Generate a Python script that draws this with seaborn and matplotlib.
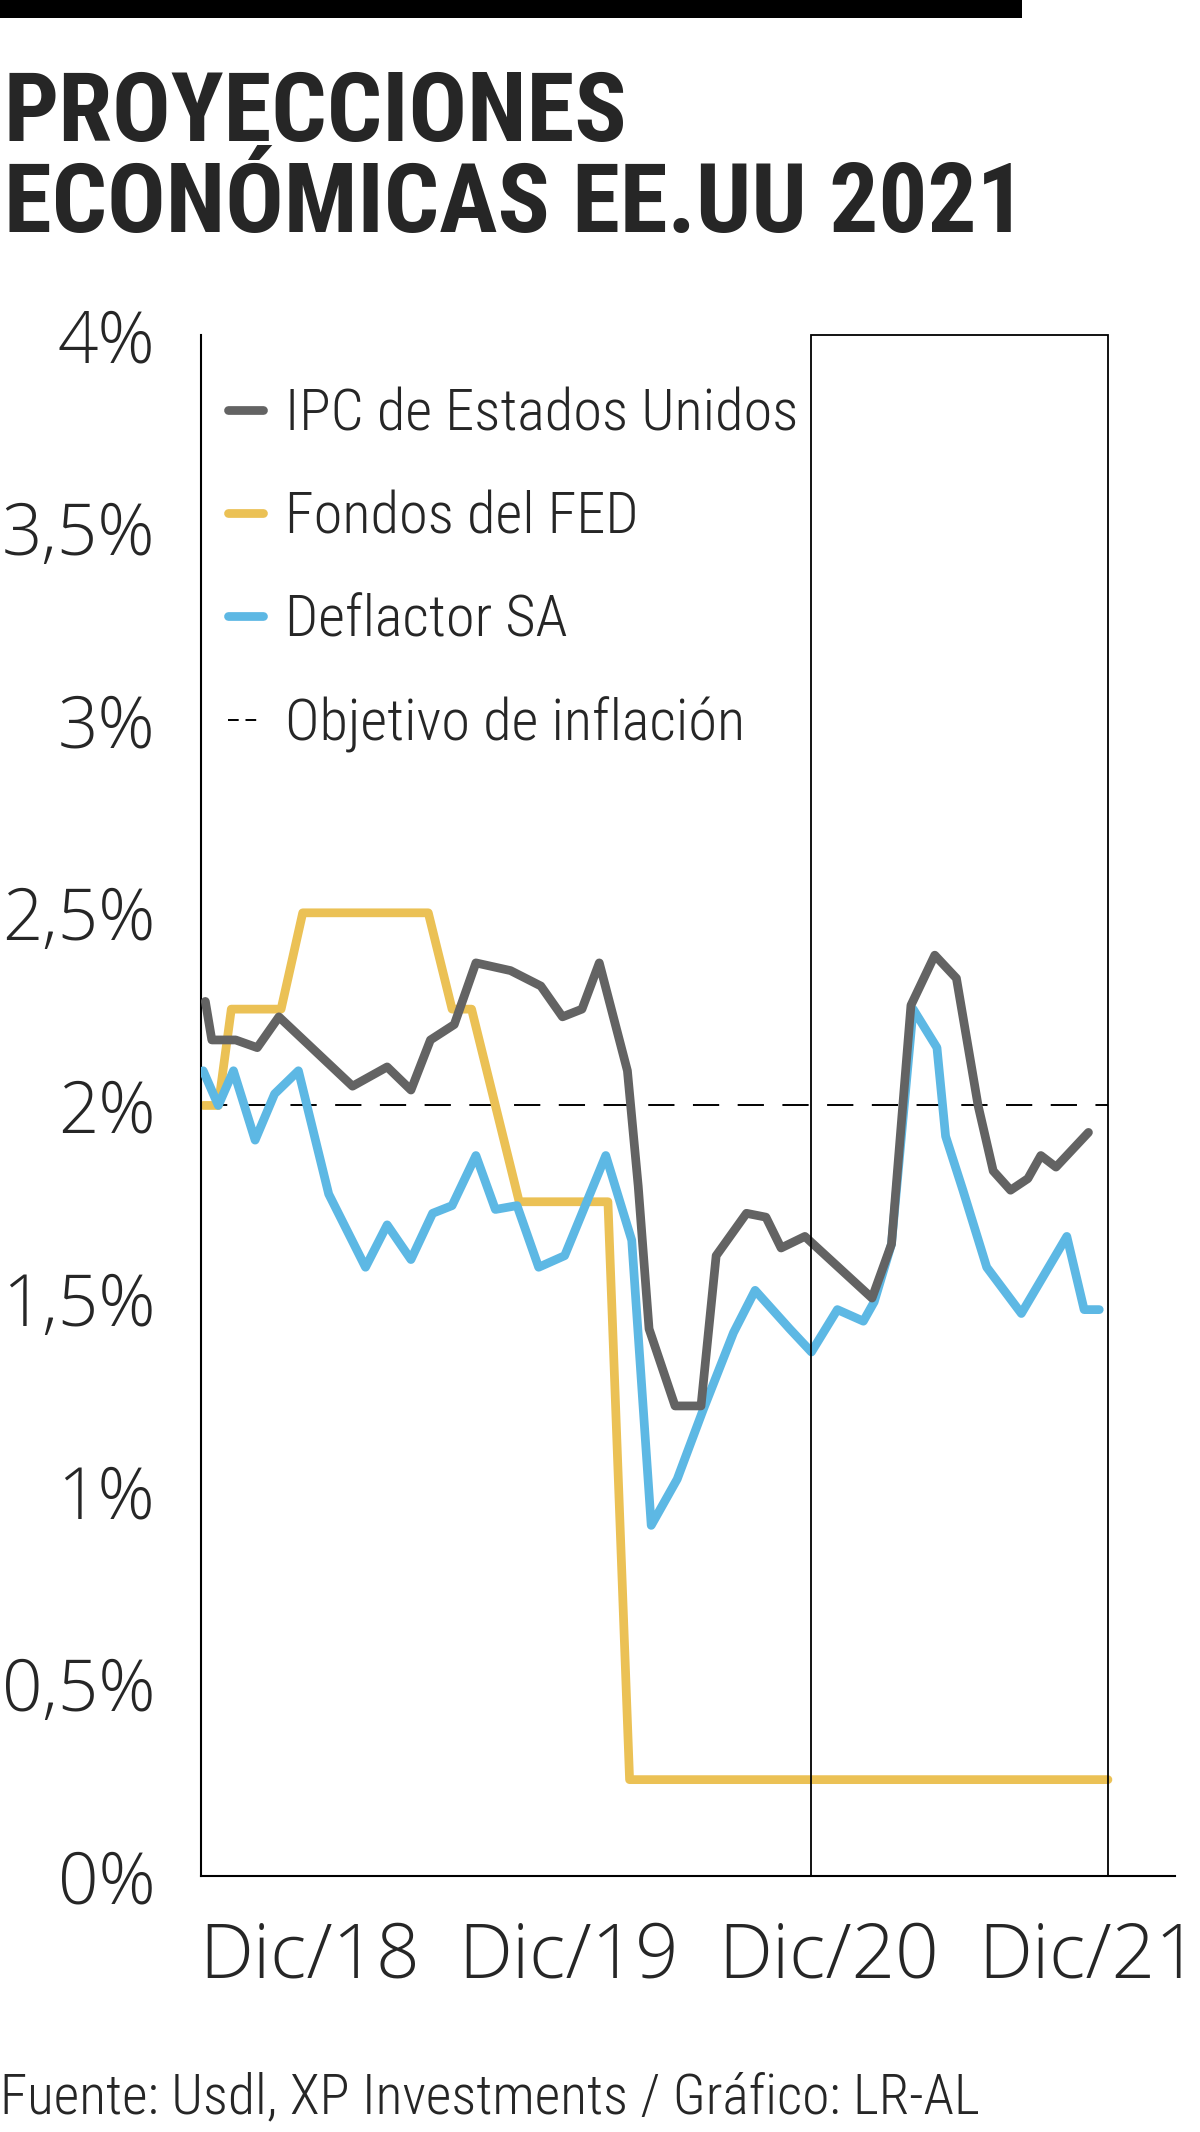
import numpy as np
import pandas as pd
import matplotlib
matplotlib.use('Agg')
import matplotlib.pyplot as plt
from matplotlib import font_manager
from matplotlib.lines import Line2D
from matplotlib.patches import Rectangle
import seaborn as sns

# =============================================================================
# DATOS (eje x en meses desde dic/18, eje y en %)
# =============================================================================
mes_ipc = [-4.8, -4.5, -3.4, -2.4, -1.4, 2.0, 3.6, 4.7, 5.6, 6.7, 7.7, 9.3, 10.7,
           11.7, 12.6, 13.4, 14.7, 15.2, 15.7, 16.9, 18.1, 18.8, 20.2, 21.1, 21.8,
           22.9, 26.0, 26.9, 27.8, 28.9, 29.9, 30.9, 31.6, 32.4, 33.2, 33.8, 34.5, 36.0]
ipc = [2.27, 2.17, 2.17, 2.15, 2.23, 2.05, 2.10, 2.04, 2.17, 2.21, 2.37, 2.35, 2.31,
       2.23, 2.25, 2.37, 2.09, 1.79, 1.42, 1.22, 1.22, 1.61, 1.72, 1.71, 1.63,
       1.66, 1.50, 1.64, 2.26, 2.39, 2.33, 2.00, 1.83, 1.78, 1.81, 1.87, 1.84, 1.93]

mes_fed = [-4.9, -4.2, -3.6, -1.3, -0.3, 5.5, 6.6, 7.5, 9.7, 13.8, 14.8, 36.9]
fed = [2.00, 2.00, 2.25, 2.25, 2.50, 2.50, 2.25, 2.25, 1.75, 1.75, 0.25, 0.25]

mes_deflactor = [-4.9, -4.2, -3.5, -2.5, -1.6, -0.5, 0.9, 2.6, 3.6, 4.7, 5.7, 6.6,
                 7.7, 8.6, 9.6, 10.6, 11.8, 13.7, 14.9, 15.8, 17.0, 18.2, 19.6, 20.6,
                 22.2, 23.2, 24.4, 25.6, 26.1, 26.9, 27.9, 29.0, 29.4, 30.2, 31.3,
                 32.9, 35.0, 35.8, 36.5]
deflactor = [2.09, 2.00, 2.09, 1.91, 2.03, 2.09, 1.77, 1.58, 1.69, 1.60, 1.72, 1.74,
             1.87, 1.73, 1.74, 1.58, 1.61, 1.87, 1.65, 0.91, 1.03, 1.21, 1.41, 1.52,
             1.42, 1.36, 1.47, 1.44, 1.49, 1.64, 2.25, 2.15, 1.92, 1.78, 1.58,
             1.46, 1.66, 1.47, 1.47]

objetivo_inflacion = 2.0
periodo_proyeccion = [23.2, 36.9]

etiquetas = ['IPC de Estados Unidos', 'Fondos del FED', 'Deflactor SA',
             'Objetivo de inflación']
ytick_vals = [0, 0.5, 1, 1.5, 2, 2.5, 3, 3.5, 4]
ytick_labels = ['0%', '0,5%', '1%', '1,5%', '2%', '2,5%', '3%', '3,5%', '4%']
xtick_vals = [0, 12, 24, 36]
xtick_labels = ['Dic/18', 'Dic/19', 'Dic/20', 'Dic/21']

gris = '#636363'
amarillo = '#EBC155'
azul = '#5DB8E4'

# =============================================================================
# FUENTES
# =============================================================================
sns.set_style('white')
disponibles = {f.name for f in font_manager.fontManager.ttflist}


def elegir(opciones, defecto='DejaVu Sans'):
    for o in opciones:
        if o in disponibles:
            return o
    return defecto


fuente_titulo = elegir(['Roboto Condensed', 'Liberation Sans Narrow', 'Open Sans Condensed'])
fuente_estrecha = elegir(['Roboto Condensed', 'Liberation Sans Narrow'])
fuente_ligera = elegir(['Open Sans Light', 'Open Sans', 'Lato Light', 'Lato'])
estirar_titulo = 'condensed' if fuente_titulo == 'DejaVu Sans' else 'normal'
estirar_estrecha = 'condensed' if fuente_estrecha == 'DejaVu Sans' else 'normal'
plt.rcParams['font.family'] = [fuente_ligera, 'DejaVu Sans']

tam_leyenda = 42
grosor = 6.3

# =============================================================================
# FIGURA
# =============================================================================
fig = plt.figure(figsize=(12, 21.32), dpi=100)
ax = fig.add_axes([0.1675, 0.1201, 0.8117, 0.7228])

ax.hlines(objetivo_inflacion, xmin=-5, xmax=periodo_proyeccion[1], colors='black',
          linewidth=1.4, linestyles=(0, (13.5, 9.5)), zorder=1)

sns.lineplot(x=mes_fed, y=fed, ax=ax, color=amarillo, linewidth=grosor, sort=False,
             estimator=None, legend=False, zorder=2)
sns.lineplot(x=mes_deflactor, y=deflactor, ax=ax, color=azul, linewidth=grosor, sort=False,
             estimator=None, legend=False, zorder=3)
sns.lineplot(x=mes_ipc, y=ipc, ax=ax, color=gris, linewidth=grosor, sort=False,
             estimator=None, legend=False, zorder=4)

ax.add_patch(Rectangle((periodo_proyeccion[0], 0),
                       periodo_proyeccion[1] - periodo_proyeccion[0], 4,
                       fill=False, edgecolor='black', linewidth=1.3, clip_on=False,
                       zorder=5))

ax.set_xlim(-5, 40)
ax.set_ylim(0, 4)
ax.set_xlabel('')
ax.set_ylabel('')
sns.despine(ax=ax)
for lado in ['left', 'bottom']:
    ax.spines[lado].set_color('black')
    ax.spines[lado].set_linewidth(1.5)

ax.set_yticks(ytick_vals)
ax.set_yticklabels(ytick_labels, fontsize=51, fontweight='light')
ax.set_xticks(xtick_vals)
ax.set_xticklabels(xtick_labels, fontsize=55, fontweight='light')
ax.tick_params(axis='y', length=0, pad=33)
ax.tick_params(axis='x', length=0, pad=32)

# --- Leyenda ---
handles = [Line2D([], [], color=gris, linewidth=grosor, solid_capstyle='round'),
           Line2D([], [], color=amarillo, linewidth=grosor, solid_capstyle='round'),
           Line2D([], [], color=azul, linewidth=grosor, solid_capstyle='round'),
           Line2D([], [], color='black', linewidth=1.4, dashes=(5.5, 3.5))]
ax.legend(handles, etiquetas, loc='upper left', bbox_to_anchor=(0.028, 0.966),
          frameon=False, handlelength=25 / tam_leyenda, handletextpad=16 / tam_leyenda,
          labelspacing=34.5 / tam_leyenda, borderpad=0, borderaxespad=0,
          prop=dict(family=fuente_estrecha, size=tam_leyenda, weight='light',
                    stretch=estirar_estrecha))

# --- Titulo, barra y fuente ---
fig.patches.append(Rectangle((0, 0.9916), 0.852, 0.0084, transform=fig.transFigure,
                             facecolor='black', edgecolor='none'))
fig.text(0.003, 1 - 141 / 2132, 'PROYECCIONES', fontsize=70, fontweight='bold',
         family=fuente_titulo, fontstretch=estirar_titulo, va='baseline', ha='left')
fig.text(0.003, 1 - 232 / 2132, 'ECONÓMICAS EE.UU 2021', fontsize=70, fontweight='bold',
         family=fuente_titulo, fontstretch=estirar_titulo, va='baseline', ha='left')
fig.text(0.0, 1 - 2113 / 2132, 'Fuente: Usdl, XP Investments / Gráfico: LR-AL',
         fontsize=40, fontweight='light', family=fuente_estrecha,
         fontstretch=estirar_estrecha, va='baseline', ha='left')

plt.savefig('out.png', dpi=100)
